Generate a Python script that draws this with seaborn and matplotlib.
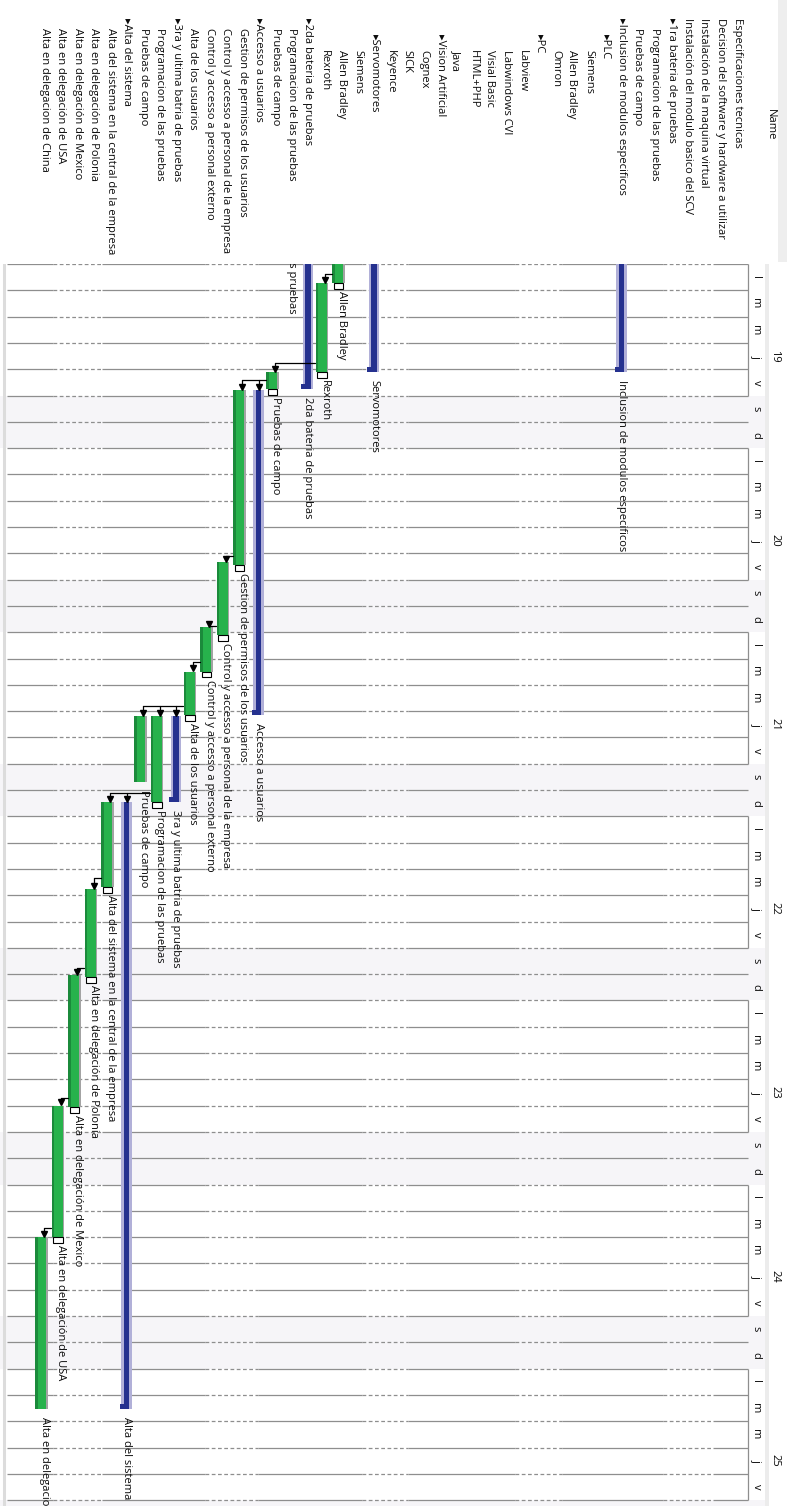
import numpy as np
import pandas as pd
import matplotlib
matplotlib.use("Agg")
import matplotlib.pyplot as plt
import seaborn as sns

# ---------------- data ----------------
task_names = [
    "Especificaciones tecnicas",
    "Decision del software y hardware a utilizar",
    "Instalación de la maquina virtual",
    "Instalación del modulo basico del SCV",
    "1ra bateria de pruebas",
    "Programacion de las pruebas",
    "Pruebas de campo",
    "Inclusion de modulos especificos",
    "PLC",
    "Siemens",
    "Allen Bradley",
    "Omron",
    "PC",
    "Labview",
    "Labwindows CVI",
    "Visial Basic",
    "HTML+PHP",
    "Java",
    "Vision Artificial",
    "Cognex",
    "SICK",
    "Keyence",
    "Servomotores",
    "Siemens",
    "Allen Bradley",
    "Rexroth",
    "2da bateria de pruebas",
    "Programacion de las pruebas",
    "Pruebas de campo",
    "Accesso a usuarios",
    "Gestion de permisos de los usuarios",
    "Control y accesso a personal de la empresa",
    "Control y accesso a personal externo",
    "Alta de los usuarios",
    "3ra y ultima batria de pruebas",
    "Programacion de las pruebas",
    "Pruebas de campo",
    "Alta del sistema",
    "Alta del sistema en la central de la empresa",
    "Alta en delegación de Polonia",
    "Alta en delegación de Mexico",
    "Alta en delegación de USA",
    "Alta en delegacion de China",
]
task_levels = [0, 0, 0, 0, 0, 1, 1, 0, 1, 2, 2, 2, 1, 2, 2, 2, 2, 2, 1, 2, 2, 2,
               1, 2, 2, 2, 0, 1, 1, 0, 1, 1, 1, 1, 0, 1, 1, 0, 1, 1, 1, 1, 1]
task_summary = [False, False, False, False, True, False, False, True, True, False,
                False, False, True, False, False, False, False, False, True, False,
                False, False, True, False, False, False, True, False, False, True,
                False, False, False, False, True, False, False, True, False, False,
                False, False, False]

nan = np.nan
# start / end in days from Monday of week 19 (only the part of the plan in view)
bar_start = [nan] * 7 + [-8.0] + [nan] * 14 + [-8.0, nan, -1.5, 0.72, -8.0, -6.5,
             4.1, 4.8, 4.8, 11.33, 13.8, 15.5, 17.2, 17.2, 17.2, 20.45, 20.45,
             23.77, 27.05, 32.0, 37.0]
bar_end = [nan] * 7 + [4.1] + [nan] * 14 + [4.1, nan, 0.72, 4.1, 4.75, -4.2,
           4.75, 17.15, 11.45, 14.1, 15.5, 17.15, 20.45, 20.45, 19.7, 43.55, 23.7,
           27.1, 32.05, 37.0, 43.55]

dep_from = [24, 25, 28, 30, 31, 32, 33, 35, 38, 39, 40, 41]
dep_to = [[25], [28], [30, 29], [31], [32], [33], [36, 35, 34], [38, 37],
          [39], [40], [41], [42]]

day_letters = ["l", "m", "m", "j", "v", "s", "d"]
week_numbers = [19, 20, 21, 22, 23, 24, 25]

# ---------------- style ----------------
sns.set_theme(style="white")
plt.rcParams["font.family"] = ["Open Sans", "DejaVu Sans"]
FS = 8.0
TXT = "#0a0a0a"

W, H, DPI = 787, 1506, 100
COL0, COLW = 737.0, 16.5        # column of first task (px) and column pitch
TOP, DAY = 264.0, 26.3          # top of timeline (px) and day height (px)


def px2i(px):
    return (COL0 - px) / COLW


df = pd.DataFrame({"name": task_names, "level": task_levels,
                   "summary": task_summary, "start": bar_start, "end": bar_end})
df["idx"] = np.arange(len(df))

fig = plt.figure(figsize=(W / DPI, H / DPI), dpi=DPI)
fig.patch.set_facecolor("white")

# timeline axes
ax = fig.add_axes([0, 0, 1, (H - TOP) / H])
ndays = (H - TOP) / DAY
ax.set_xlim(px2i(0), px2i(W))
ax.set_ylim(ndays, 0)
ax.axis("off")

# header axes
hax = fig.add_axes([0, (H - 262) / H, 1, 262 / H])
hax.set_xlim(px2i(0), px2i(W))
hax.set_ylim(262, 0)
hax.axis("off")

# weekend shading
for w in range(len(week_numbers)):
    ax.axhspan(7 * w + 5, 7 * w + 7, xmin=0, xmax=766 / W,
               color="#f6f5f8", zorder=0, lw=0)

# day grid lines (solid with dashed stretches)
grid_col = "#8e8e8e"
days = np.arange(0, int(ndays) + 1)
solid = [(7, 53), (102, 205), (258, 362), (408, 515), (562, 663), (713, 748)]
dashed = [(53, 102), (205, 258), (362, 408), (515, 562), (663, 713)]
for a, b in solid:
    ax.hlines(days, px2i(a), px2i(b), colors=grid_col, lw=0.9, zorder=1)
for a, b in dashed:
    ax.hlines(days, px2i(a), px2i(b), colors=grid_col, lw=0.9,
              linestyles=(0, (3, 2)), zorder=1)
for w in range(len(week_numbers)):
    ax.vlines(px2i(748), 7 * w, 7 * w + 5, colors=grid_col, lw=0.9, zorder=1)
ax.axvline(px2i(4), color="#dcdcdc", lw=2.2, zorder=1)
ax.axvspan(px2i(769), px2i(765), color="#ececec", lw=0, zorder=0)

# time header: day letters and week numbers
for w, wk in enumerate(week_numbers):
    for d, letter in enumerate(day_letters):
        ax.text(px2i(756), 7 * w + d + 0.5, letter, rotation=270, ha="center",
                va="center", fontsize=FS, color=TXT, clip_on=True)
    ax.text(px2i(775), 7 * w + 3.5, str(wk), rotation=270, ha="center",
            va="center", fontsize=FS, color=TXT, clip_on=True)

# header: task names
hax.axvspan(px2i(787), px2i(778), color="#eeeeee", lw=0)
hax.text(px2i(770), 125, "Name", rotation=270, ha="center", va="center",
         fontsize=FS, color=TXT)
for r in df.itertuples():
    if r.level == 0:
        y0 = 18
    elif r.level == 1:
        y0 = 34 if r.summary else 28
    else:
        y0 = 50
    label = ("\u25B8" + r.name) if r.summary else r.name
    hax.text(r.idx, y0, label, rotation=270, ha="center", va="top",
             fontsize=FS, color=TXT, clip_on=True)

# bars
vis = df.dropna(subset=["start", "end"])
tasks = vis[~vis.summary]
summ = vis[vis.summary]
dur_t = tasks.end - tasks.start
ax.bar(tasks.idx - 0.09, dur_t, bottom=tasks.start, width=0.30,
       color="#a3a3a3", lw=0, zorder=3)
ax.bar(tasks.idx + 0.21, dur_t, bottom=tasks.start, width=0.67,
       color="#27b24c", lw=0, zorder=4)
ax.bar(tasks.idx + 0.455, dur_t, bottom=tasks.start, width=0.18,
       color="#1b8a3b", lw=0, zorder=5)

dur_s = summ.end - summ.start
ax.bar(summ.idx, dur_s, bottom=summ.start, width=0.62,
       color="#b1b0d8", lw=0, zorder=3)
ax.bar(summ.idx, dur_s, bottom=summ.start, width=0.36,
       color="#25318f", lw=0, zorder=4)
ax.bar(summ.idx + 0.2, 0.2, bottom=summ.end - 0.2, width=0.42,
       color="#25318f", lw=0, zorder=4)

# dependencies
for p, succs in zip(dep_from, dep_to):
    pe = df.loc[p, "end"]
    yl = pe - 0.35
    ax.plot([p + 0.55, max(succs)], [yl, yl], color="black", lw=0.9, zorder=6)
    for s in succs:
        ss = df.loc[s, "start"]
        ax.plot([s, s], [yl, ss - 0.12], color="black", lw=0.9, zorder=6)
        ax.plot([s], [ss - 0.12], marker="v", color="black", ms=5, zorder=7)
    ax.bar(p + 0.15, 0.22, bottom=pe, width=0.55, color="white",
           edgecolor="black", lw=0.8, zorder=6)

# bar labels
for r in vis.itertuples():
    ax.text(r.idx, r.end + 0.3, r.name, rotation=270, ha="center", va="top",
            fontsize=FS, color=TXT, clip_on=True, zorder=8)

fig.savefig("out.png", dpi=DPI, facecolor="white")
